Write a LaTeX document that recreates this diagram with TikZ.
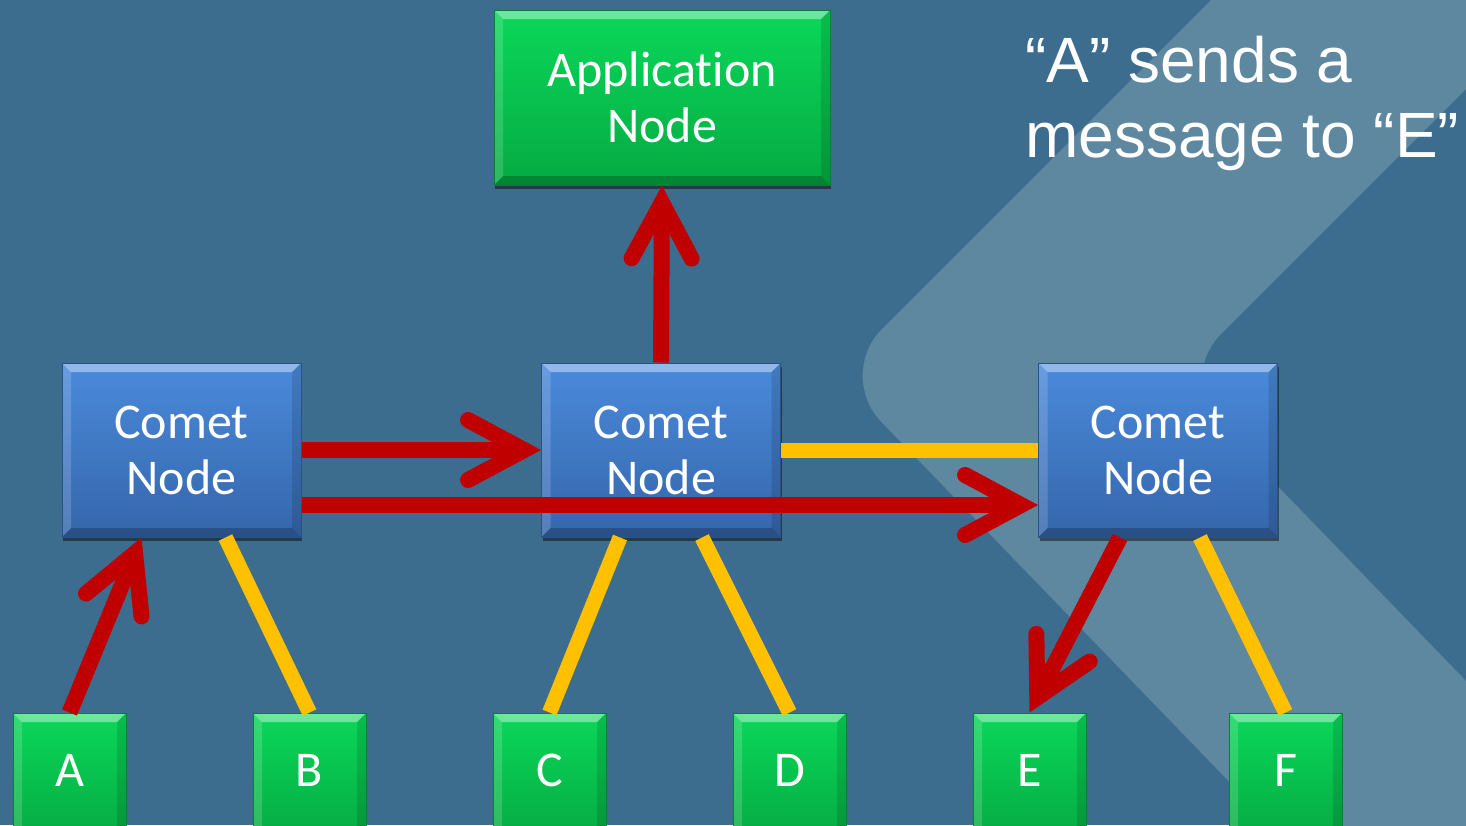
\documentclass[tikz,border=0pt]{standalone}
\usepackage{fontspec}
\setmainfont{Carlito}[Ligatures=NoCommon]
\newfontfamily\arialfont{Liberation Sans}
\usetikzlibrary{arrows.meta,shadows}
\definecolor{cBg}{HTML}{3D6D8E}
\definecolor{cChev}{HTML}{5E87A0}
\definecolor{cRed}{HTML}{C00000}
\definecolor{cYel}{HTML}{FFC000}
\definecolor{cGtop}{HTML}{0AD85A}
\definecolor{cGbot}{HTML}{05AA42}
\definecolor{cGline}{HTML}{04803A}
\definecolor{cBtop}{HTML}{4A8ADB}
\definecolor{cBbot}{HTML}{3566AB}
\definecolor{cBline}{HTML}{2C5285}
\tikzset{
  bevel/.style={path picture={
    \coordinate (pNW) at (path picture bounding box.north west);
    \coordinate (pNE) at (path picture bounding box.north east);
    \coordinate (pSW) at (path picture bounding box.south west);
    \coordinate (pSE) at (path picture bounding box.south east);
    \fill[white,opacity=.40] (pNW) -- (pNE) -- ([xshift=-9pt,yshift=-9pt]pNE) -- ([xshift=9pt,yshift=-9pt]pNW) -- cycle;
    \fill[white,opacity=.16] (pNW) -- ([xshift=9pt,yshift=-9pt]pNW) -- ([xshift=9pt,yshift=9pt]pSW) -- (pSW) -- cycle;
    \fill[black,opacity=.12] (pNE) -- ([xshift=-9pt,yshift=-9pt]pNE) -- ([xshift=-9pt,yshift=9pt]pSE) -- (pSE) -- cycle;
    \fill[black,opacity=.22] (pSW) -- ([xshift=9pt,yshift=9pt]pSW) -- ([xshift=-9pt,yshift=9pt]pSE) -- (pSE) -- cycle;
  }},
  boxbase/.style={rectangle, inner sep=0pt, line width=1pt, text=white, align=center,
    font=\fontsize{50}{56}\selectfont, bevel,
    drop shadow={shadow xshift=1pt, shadow yshift=-4pt, opacity=.45, fill=black}},
  greenbox/.style={boxbase, draw=cGline, top color=cGtop, bottom color=cGbot},
  bluebox/.style={boxbase, draw=cBline, top color=cBtop, bottom color=cBbot,
    minimum width=239pt, minimum height=174pt},
  appbox/.style={greenbox, minimum width=336pt, minimum height=175pt},
  leafbox/.style={greenbox, minimum width=113pt, minimum height=126pt, text depth=12pt},
  redarrow/.style={draw=cRed, line width=16pt,
    -{Straight Barb[length=56pt,width=60pt,line cap=round,line join=miter]}},
  yelconn/.style={draw=cYel, line width=15pt},
  notetext/.style={text=white, align=left, inner sep=0pt,
    font=\arialfont\fontsize{64}{75}\selectfont}
}
\begin{document}
\begin{tikzpicture}[x=1pt,y=-1pt]
\clip (0,0) rectangle (1466,825);
\fill[cBg] (0,0) rectangle (1466,825);
\fill[cChev, rounded corners=65pt] (1336,-125) -- (836,375) -- (1536,1099)
  -- (1675,897) -- (1175,380) -- (1775,-220) -- cycle;

\node[appbox] (app) at (662,97.5) {Application\\Node};
\node[bluebox] (c1) at (181.5,450) {Comet\\Node};
\node[bluebox] (c2) at (661,450) {Comet\\Node};
\node[bluebox] (c3) at (1158,450) {Comet\\Node};
\node[leafbox] (A) at (69.5,776) {A};
\node[leafbox] (B) at (309.5,776) {B};
\node[leafbox] (C) at (549.5,776) {C};
\node[leafbox] (D) at (789.5,776) {D};
\node[leafbox] (E) at (1029.5,776) {E};
\node[leafbox] (F) at (1285.5,776) {F};

\node[notetext, anchor=north west] (note) at (1025,36) {“A” sends a\\message to “E”};

% yellow links
\draw[yelconn] ([xshift=44pt]c1.south) -- (B.north);
\draw[yelconn] ([xshift=-41pt]c2.south) -- (C.north);
\draw[yelconn] ([xshift=41pt]c2.south) -- (D.north);
\draw[yelconn] (c2.east) -- (c3.west);
\draw[yelconn] ([xshift=42pt]c3.south) -- (F.north);

% red message path
\draw[redarrow] (A.north) -- ([xshift=-40pt]c1.south);
\draw[redarrow] (c1.east) -- (c2.west);
\draw[redarrow] ([yshift=-55pt]c1.east) -- ([yshift=-55pt]c3.west);
\draw[redarrow] (c2.north) -- (app.south);
\draw[redarrow] ([xshift=-38pt]c3.south) -- (E.north);
\end{tikzpicture}
\end{document}
